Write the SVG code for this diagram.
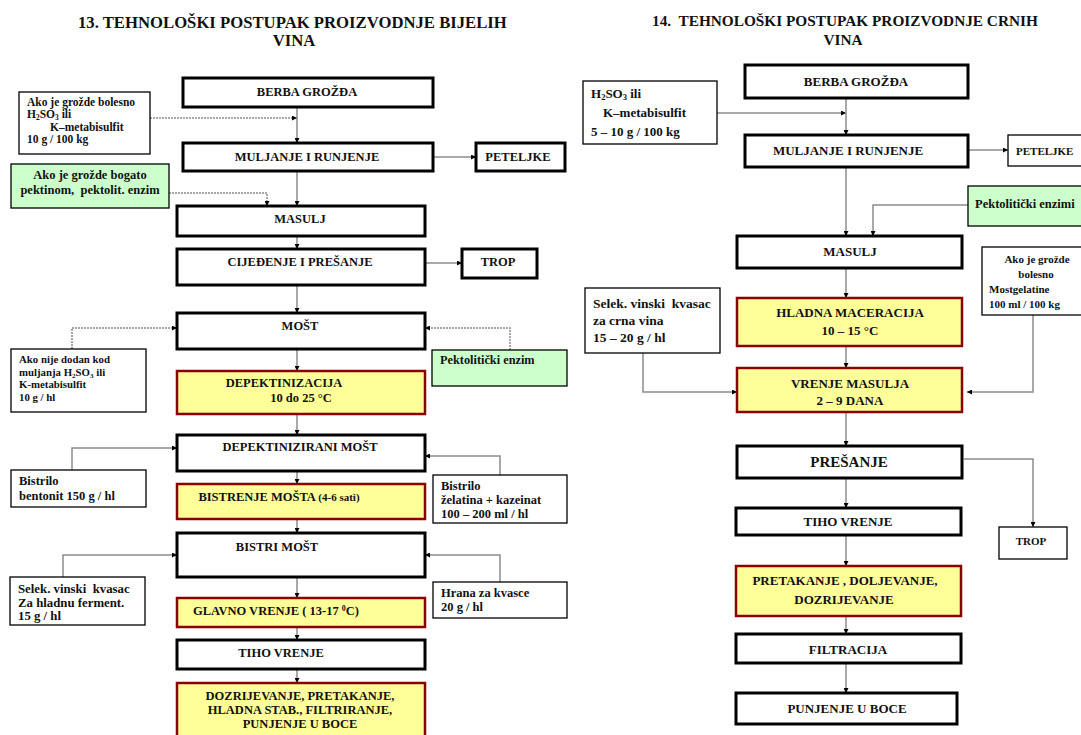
<svg xmlns="http://www.w3.org/2000/svg" width="1081" height="735" viewBox="0 0 1081 735">
<style>
text{font-family:"Liberation Serif","Times New Roman",serif;font-weight:bold;fill:#111;white-space:pre}
.m{font-size:12.5px;text-anchor:middle}
.r{font-size:13px;text-anchor:middle}
.box{fill:#fff;stroke:#000;stroke-width:3}
.yel{fill:#ffff99;stroke:#8b0000;stroke-width:2.5}
.note{fill:#fff;stroke:#000;stroke-width:1.3}
.grn{fill:#ccffcc;stroke:#000;stroke-width:1.3}
.c{fill:none;stroke:#8c8c8c;stroke-width:1.5;marker-end:url(#a)}
.cd{fill:none;stroke:#8c8c8c;stroke-width:1.5;stroke-dasharray:2 1;marker-end:url(#a)}
</style>
<defs>
<marker id="a" viewBox="0 0 10 10" refX="10" refY="5" markerWidth="5" markerHeight="5" orient="auto" markerUnits="userSpaceOnUse"><path d="M0,0L10,5L0,10z" fill="#000"/></marker>
</defs>
<rect width="1081" height="735" fill="#fff"/>
<g id="titles">
<text x="78" y="28" font-size="16.7">13. TEHNOLOŠKI POSTUPAK PROIZVODNJE BIJELIH</text>
<text x="294" y="46" font-size="16.7" text-anchor="middle">VINA</text>
<text x="652" y="26" font-size="15.3">14.  TEHNOLOŠKI POSTUPAK PROIZVODNJE CRNIH</text>
<text x="843" y="45" font-size="15.3" text-anchor="middle">VINA</text>
</g>
<g id="connectors">
<path class="c" d="M297,107V143"/>
<path class="cd" d="M150,118H297"/>
<path class="c" d="M433,157H476"/>
<path class="c" d="M297,171V206"/>
<path class="cd" d="M169,193H267V206"/>
<path class="c" d="M297,236V249"/>
<path class="c" d="M425,263H462"/>
<path class="c" d="M297,285V313"/>
<path class="cd" d="M72,349V328H177"/>
<path class="cd" d="M510,350V328H425"/>
<path class="c" d="M297,349V371"/>
<path class="c" d="M297,414V435"/>
<path class="c" d="M72,470V448H177"/>
<path class="c" d="M500,475V456H425"/>
<path class="c" d="M297,471V484"/>
<path class="c" d="M297,519V533"/>
<path class="c" d="M63,577V555H177"/>
<path class="c" d="M500,582V555H425"/>
<path class="c" d="M297,577V598"/>
<path class="c" d="M297,627V640"/>
<path class="c" d="M297,669V683"/>
<path class="c" d="M717,113H846"/>
<path class="c" d="M846,98V135"/>
<path class="c" d="M968,150H1008"/>
<path class="c" d="M846,167V236"/>
<path class="c" d="M968,205H873V236"/>
<path class="c" d="M846,268V298"/>
<path class="c" d="M643,353V392H737"/>
<path class="c" d="M1033,315V392H967"/>
<path class="c" d="M846,346V368"/>
<path class="c" d="M846,412V446"/>
<path class="c" d="M964,459H1033V527"/>
<path class="c" d="M846,478V508"/>
<path class="c" d="M846,535V566"/>
<path class="c" d="M846,616V634"/>
<path class="c" d="M846,663V693"/>
</g>
<g id="L-berba"><rect class="box" x="183" y="78" width="250" height="29"/><text class="m" x="307" y="96">BERBA GROŽĐA</text></g>
<g id="L-note1"><rect class="note" x="19" y="92" width="131" height="62"/>
<text x="27" y="106" font-size="11.5">Ako je grožde bolesno</text>
<text x="27" y="118" font-size="11.5">H<tspan font-size="7.5" dy="2">2</tspan><tspan dy="-2">SO</tspan><tspan font-size="7.5" dy="2">3</tspan><tspan dy="-2"> ili</tspan></text>
<text x="50" y="131" font-size="11.5">K–metabisulfit</text>
<text x="27" y="143" font-size="11.5">10 g / 100 kg</text></g>
<g id="L-muljanje"><rect class="box" x="183" y="143" width="250" height="28"/><text class="m" x="307" y="161">MULJANJE I RUNJENJE</text></g>
<g id="L-peteljke"><rect class="box" x="476" y="143" width="89" height="28"/><text class="m" x="518" y="161">PETELJKE</text></g>
<g id="L-green1"><rect class="grn" x="11" y="164" width="158" height="44"/>
<text x="90" y="179" font-size="12.5" text-anchor="middle">Ako je grožde bogato</text>
<text x="90" y="194" font-size="12.5" text-anchor="middle">pektinom,  pektolit. enzim</text></g>
<g id="L-masulj"><rect class="box" x="177" y="206" width="248" height="30"/><text class="m" x="300" y="223">MASULJ</text></g>
<g id="L-cijedjenje"><rect class="box" x="177" y="249" width="248" height="36"/><text class="m" x="300" y="266">CIJEĐENJE I PREŠANJE</text></g>
<g id="L-trop"><rect class="box" x="462" y="249" width="75" height="29"/><text class="m" x="498" y="266">TROP</text></g>
<g id="L-most"><rect class="box" x="177" y="313" width="248" height="36"/><text class="m" x="300" y="330">MOŠT</text></g>
<g id="L-note2"><rect class="note" x="11" y="349" width="135" height="63"/>
<text x="19" y="363" font-size="10.8">Ako nije dodan kod</text>
<text x="19" y="376" font-size="10.8">muljanja H<tspan font-size="7" dy="2">2</tspan><tspan dy="-2">SO</tspan><tspan font-size="7" dy="2">3</tspan><tspan dy="-2"> ili</tspan></text>
<text x="19" y="388" font-size="10.8">K-metabisulfit</text>
<text x="19" y="401" font-size="10.8">10 g / hl</text></g>
<g id="L-green2"><rect class="grn" x="432" y="350" width="135" height="36"/><text x="440" y="364" font-size="12.3">Pektolitički enzim</text></g>
<g id="L-depekt"><rect class="yel" x="177" y="371" width="248" height="43"/>
<text class="m" x="284" y="387">DEPEKTINIZACIJA</text><text class="m" x="301" y="402">10 do 25 °C</text></g>
<g id="L-depmost"><rect class="box" x="177" y="435" width="248" height="36"/><text class="m" x="300" y="451">DEPEKTINIZIRANI MOŠT</text></g>
<g id="L-bistrilo1"><rect class="note" x="11" y="470" width="135" height="37"/>
<text x="19" y="485" font-size="12.5">Bistrilo</text><text x="19" y="500" font-size="12.5">bentonit 150 g / hl</text></g>
<g id="L-bistrilo2"><rect class="note" x="433" y="475" width="134" height="48"/>
<text x="441" y="490" font-size="12.5">Bistrilo</text><text x="441" y="504" font-size="12.5">želatina + kazeinat</text><text x="441" y="518" font-size="12.5">100 – 200 ml / hl</text></g>
<g id="L-bistrenje"><rect class="yel" x="177" y="484" width="248" height="35"/><text class="m" x="279" y="501">BISTRENJE MOŠTA <tspan font-size="11">(4-6 sati)</tspan></text></g>
<g id="L-bistrimost"><rect class="box" x="177" y="533" width="248" height="44"/><text class="m" x="277" y="551">BISTRI MOŠT</text></g>
<g id="L-selek"><rect class="note" x="10" y="577" width="135" height="48"/>
<text x="18" y="593" font-size="12.8">Selek. vinski  kvasac</text><text x="18" y="607" font-size="12.8">Za hladnu ferment.</text><text x="18" y="620" font-size="12.8">15 g / hl</text></g>
<g id="L-hrana"><rect class="note" x="433" y="582" width="134" height="36"/>
<text x="441" y="597" font-size="12.5">Hrana za kvasce</text><text x="441" y="611" font-size="12.5">20 g / hl</text></g>
<g id="L-glavno"><rect class="yel" x="177" y="598" width="248" height="29"/><text class="m" x="276" y="615">GLAVNO VRENJE ( 13-17 <tspan font-size="8" dy="-4">0</tspan><tspan dy="4">C)</tspan></text></g>
<g id="L-tiho"><rect class="box" x="177" y="640" width="248" height="29"/><text class="m" x="281" y="657">TIHO VRENJE</text></g>
<g id="L-dozr"><rect class="yel" x="177" y="683" width="248" height="56"/>
<text class="m" x="300" y="700">DOZRIJEVANJE, PRETAKANJE,</text><text class="m" x="300" y="714">HLADNA STAB., FILTRIRANJE,</text><text class="m" x="300" y="728">PUNJENJE U BOCE</text></g>
<g id="R-berba"><rect class="box" x="745" y="65" width="223" height="33"/><text class="r" x="856" y="86">BERBA GROŽĐA</text></g>
<g id="R-note1"><rect class="note" x="583" y="81" width="134" height="63"/>
<text x="591" y="98" font-size="13">H<tspan font-size="8.5" dy="2">2</tspan><tspan dy="-2">SO</tspan><tspan font-size="8.5" dy="2">3</tspan><tspan dy="-2"> ili</tspan></text>
<text x="603" y="117" font-size="13">K–metabisulfit</text>
<text x="591" y="136" font-size="13">5 – 10 g / 100 kg</text></g>
<g id="R-muljanje"><rect class="box" x="745" y="135" width="223" height="32"/><text class="r" x="848" y="155">MULJANJE I RUNJENJE</text></g>
<g id="R-peteljke"><rect class="note" x="1008" y="135" width="80" height="31"/><text x="1016" y="155" font-size="11">PETELJKE</text></g>
<g id="R-green"><rect class="grn" x="968" y="186" width="120" height="40"/><text x="975" y="208" font-size="12.5">Pektolitički enzimi</text></g>
<g id="R-masulj"><rect class="box" x="737" y="236" width="225" height="32"/><text class="r" x="850" y="256">MASULJ</text></g>
<g id="R-note2"><rect class="note" x="982" y="247" width="105" height="68"/>
<text x="1037" y="263" font-size="11" text-anchor="middle">Ako je grožde</text>
<text x="1036" y="278" font-size="11" text-anchor="middle">bolesno</text>
<text x="989" y="293" font-size="11">Mostgelatine</text>
<text x="989" y="308" font-size="11">100 ml / 100 kg</text></g>
<g id="R-hladna"><rect class="yel" x="737" y="298" width="225" height="48"/>
<text class="r" x="850" y="317">HLADNA MACERACIJA</text><text class="r" x="850" y="335">10 – 15 °C</text></g>
<g id="R-selek"><rect class="note" x="585" y="288" width="135" height="65"/>
<text x="593" y="308" font-size="13.5">Selek. vinski  kvasac</text><text x="593" y="325" font-size="13.5">za crna vina</text><text x="593" y="342" font-size="13.5">15 – 20 g / hl</text></g>
<g id="R-vrenje"><rect class="yel" x="737" y="368" width="225" height="44"/>
<text class="r" x="850" y="388">VRENJE MASULJA</text><text class="r" x="850" y="405">2 – 9 DANA</text></g>
<g id="R-presanje"><rect class="box" x="737" y="446" width="225" height="32"/><text x="849" y="467" font-size="15" text-anchor="middle">PREŠANJE</text></g>
<g id="R-trop"><rect class="note" x="999" y="527" width="68" height="32"/><text x="1031" y="545" font-size="11" text-anchor="middle">TROP</text></g>
<g id="R-tiho"><rect class="box" x="736" y="508" width="225" height="27"/><text class="r" x="848" y="526">TIHO VRENJE</text></g>
<g id="R-pretakanje"><rect class="yel" x="736" y="566" width="225" height="50"/>
<text class="r" x="845" y="585">PRETAKANJE , DOLJEVANJE,</text><text class="r" x="844" y="604">DOZRIJEVANJE</text></g>
<g id="R-filtracija"><rect class="box" x="736" y="634" width="225" height="29"/><text class="r" x="848" y="654">FILTRACIJA</text></g>
<g id="R-punjenje"><rect class="box" x="736" y="693" width="221" height="31"/><text class="r" x="847" y="713">PUNJENJE U BOCE</text></g>
</svg>
